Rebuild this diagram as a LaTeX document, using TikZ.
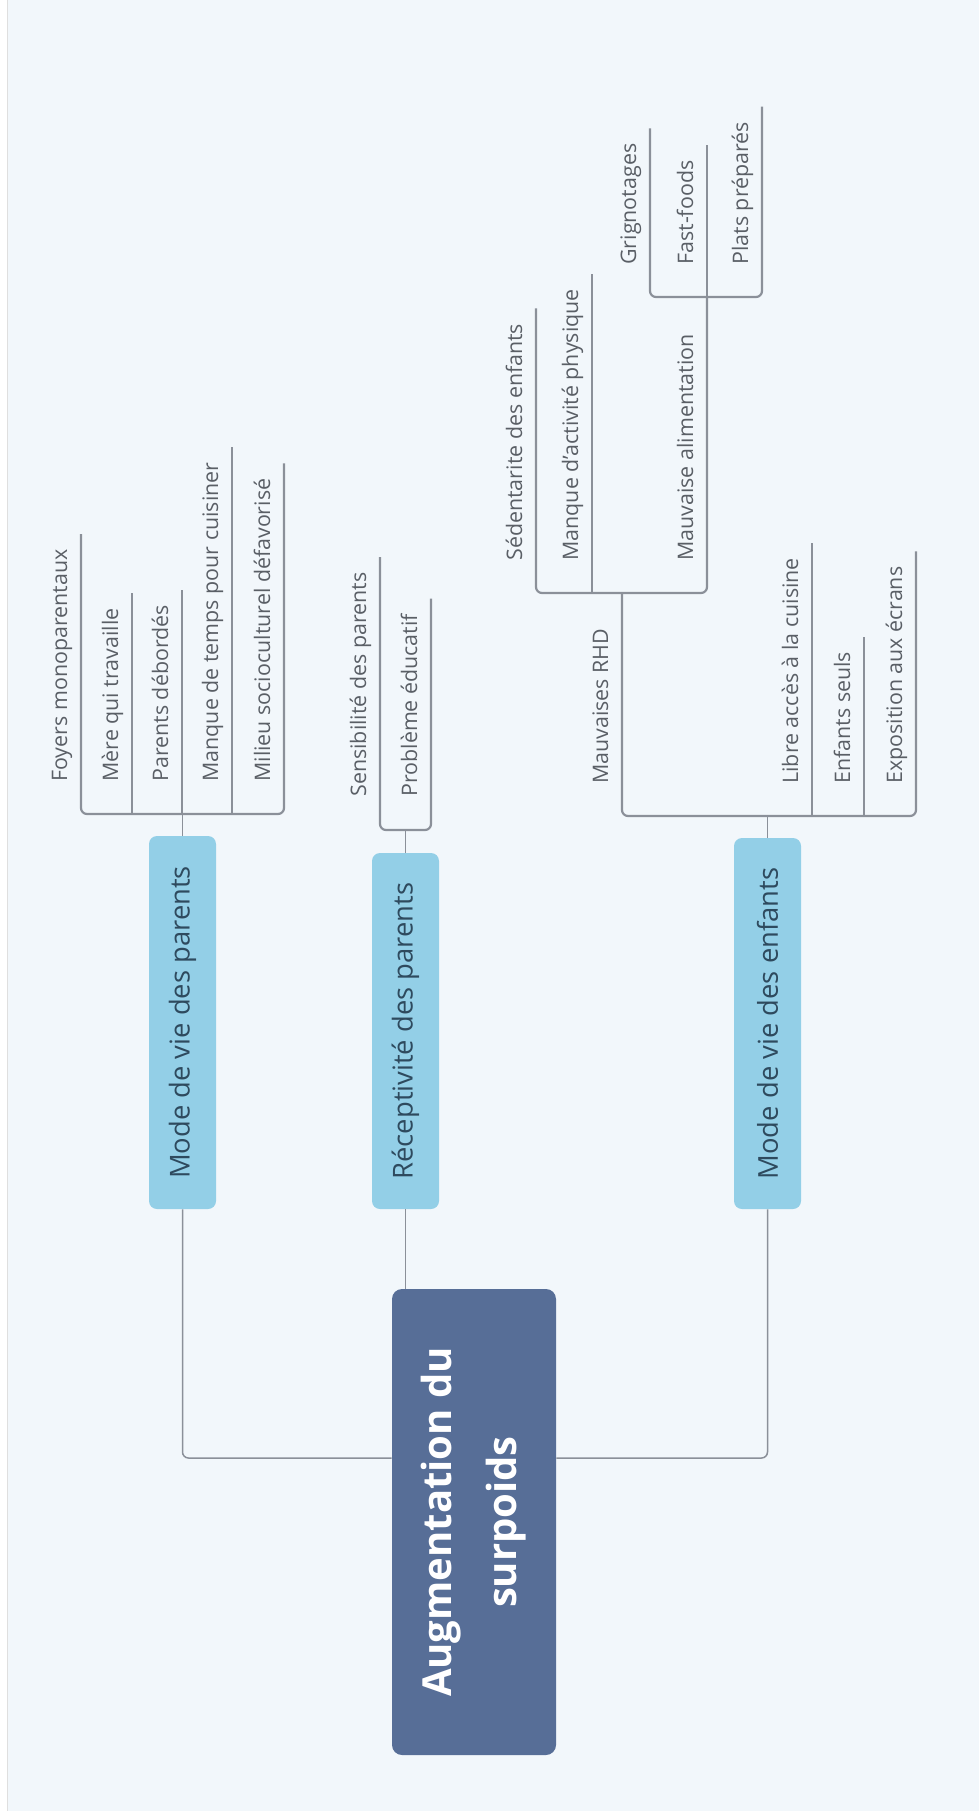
\documentclass[tikz,border=0pt]{standalone}
\usepackage{fontspec}
\setmainfont{Open Sans}
\usetikzlibrary{calc}

\definecolor{bgpaper}{HTML}{F2F7FB}
\definecolor{rootfill}{HTML}{576E97}
\definecolor{branchfill}{HTML}{93CFE7}
\definecolor{branchtext}{HTML}{2E4A5E}
\definecolor{linegray}{HTML}{8B9099}
\definecolor{leaftext}{HTML}{5A5F66}

\tikzset{
  rootbox/.style={rectangle, fill=rootfill, rounded corners=5pt, rotate=90, text=white,
    font=\fontsize{20}{32.5}\selectfont\bfseries, align=center,
    minimum width=233pt, minimum height=82pt, inner sep=0pt},
  branchbox/.style={rectangle, fill=branchfill, rounded corners=4pt, rotate=90, text=branchtext,
    font=\fontsize{13.7}{16}\selectfont, minimum height=33.5pt, inner sep=0pt},
  leaf/.style={rotate=90, anchor=base west, inner sep=0pt, text=leaftext,
    font=\fontsize{10.7}{13}\selectfont},
  wire/.style={draw=linegray, line width=0.75pt, rounded corners=3pt},
  underline/.style={draw=linegray, line width=1.1pt, rounded corners=3pt},
}

\begin{document}
\begin{tikzpicture}[x=0.5pt, y=-0.5pt]
    \useasboundingbox (0,0) rectangle (979,1811);
    \fill[bgpaper] (0,0) rectangle (979,1811);
    \fill[white] (0,0) rectangle (7,1811);
    \draw[gray!25, line width=0.4pt] (7,0) -- (7,1811);

    % centre and main branches
    \node (root) [rootbox] at (474,1522) {Augmentation du\\surpoids};
    \node (parents) [branchbox, minimum width=186.5pt] at (182.5,1022.5) {Mode de vie des parents};
    \node (recept) [branchbox, minimum width=178pt] at (405.5,1031) {Réceptivité des parents};
    \node (enfants) [branchbox, minimum width=185.5pt] at (767.5,1023.5) {Mode de vie des enfants};

    \draw[wire] (parents.west) |- (root.north |- 0,1458);
    \draw[wire] (recept.west) -- (recept.west |- root.east);
    \draw[wire] (enfants.west) |- (root.south |- 0,1458);

    % mode de vie des parents
    \node (foyers) [leaf] at (67,782) {Foyers monoparentaux};
    \node (mere) [leaf] at (118,782) {Mère qui travaille};
    \node (debordes) [leaf] at (168,782) {Parents débordés};
    \node (temps) [leaf] at (218,782) {Manque de temps pour cuisiner};
    \node (milieu) [leaf] at (270,782) {Milieu socioculturel défavorisé};

    \draw[wire] (parents.east) -- (parents.east |- 0,814);
    \draw[underline] ($(81,0 |- foyers.east)+(0,-15)$) -- (81,814) -- (284,814) -- ($(284,0 |- milieu.east)+(0,-15)$);
    \draw[underline] (132,814) -- ($(132,0 |- mere.east)+(0,-15)$);
    \draw[underline] (182,814) -- ($(182,0 |- debordes.east)+(0,-15)$);
    \draw[underline] (232,814) -- ($(232,0 |- temps.east)+(0,-15)$);

    % receptivite des parents
    \node (sensib) [leaf] at (366,797) {Sensibilité des parents};
    \node (educ) [leaf] at (417,797) {Problème éducatif};

    \draw[wire] (recept.east) -- (recept.east |- 0,830);
    \draw[underline] ($(380,0 |- sensib.east)+(0,-15)$) -- (380,830) -- (431,830) -- ($(431,0 |- educ.east)+(0,-15)$);

    % mode de vie des enfants
    \node (rhd) [leaf] at (608,784) {Mauvaises RHD};
    \node (libre) [leaf] at (798,784) {Libre accès à la cuisine};
    \node (seuls) [leaf] at (850,784) {Enfants seuls};
    \node (ecrans) [leaf] at (902,784) {Exposition aux écrans};

    \draw[wire] (enfants.east) -- (enfants.east |- 0,816);
    \draw[underline] (622,593) -- (622,816) -- (916,816) -- ($(916,0 |- ecrans.east)+(0,-15)$);
    \draw[underline] (812,816) -- ($(812,0 |- libre.east)+(0,-15)$);
    \draw[underline] (864,816) -- ($(864,0 |- seuls.east)+(0,-15)$);

    % mauvaises RHD
    \node (sedent) [leaf] at (522,561) {Sédentarite des enfants};
    \node (activite) [leaf] at (578,561) {Manque d'activité physique};
    \node (alim) [leaf] at (693,561) {Mauvaise alimentation};

    \draw[underline] ($(536,0 |- sedent.east)+(0,-15)$) -- (536,593) -- (707,593) -- (707,297);
    \draw[underline] (592,593) -- ($(592,0 |- activite.east)+(0,-15)$);

    % mauvaise alimentation
    \node (grign) [leaf] at (636,265) {Grignotages};
    \node (fastfood) [leaf] at (693,265) {Fast-foods};
    \node (plats) [leaf] at (748,265) {Plats préparés};

    \draw[underline] ($(650,0 |- grign.east)+(0,-15)$) -- (650,297) -- (762,297) -- ($(762,0 |- plats.east)+(0,-15)$);
    \draw[underline] (707,297) -- ($(707,0 |- fastfood.east)+(0,-15)$);
\end{tikzpicture}
\end{document}
